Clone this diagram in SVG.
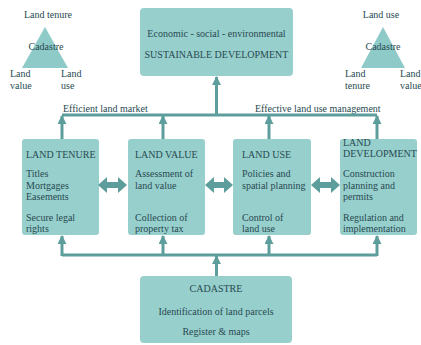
<svg xmlns="http://www.w3.org/2000/svg" width="421" height="345" viewBox="0 0 421 345">
<style>
.box{fill:#97cfcd;}
.tri{fill:#8ecac8;}
.t{font-family:"Liberation Serif","Times New Roman",serif;font-size:10px;fill:#284a50;}
.m{text-anchor:middle;}
.ln{stroke:#5d9e9c;stroke-width:3;fill:none;}
.dbl{fill:#5d9e9c;}
</style>
<defs>
<marker id="ah" viewBox="0 0 10 10" refX="9" refY="5" markerWidth="3" markerHeight="3" orient="auto" markerUnits="strokeWidth">
<path d="M0,0 L10,5 L0,10 Z" fill="#5d9e9c"/>
</marker>
</defs>
<rect width="421" height="345" fill="#ffffff"/>

<g id="triangle-left">
<polygon class="tri" points="45,27 22,68 68,68"/>
<text class="t m" x="48" y="18">Land tenure</text>
<text class="t m" x="46" y="50">Cadastre</text>
<text class="t" x="10" y="77">Land</text>
<text class="t" x="10" y="89">value</text>
<text class="t" x="61" y="77">Land</text>
<text class="t" x="61" y="89">use</text>
</g>

<g id="triangle-right">
<polygon class="tri" points="383,27 361,68 405,68"/>
<text class="t m" x="381" y="18">Land use</text>
<text class="t m" x="383" y="50">Cadastre</text>
<text class="t" x="345" y="77">Land</text>
<text class="t" x="345" y="89">tenure</text>
<text class="t" x="400" y="77">Land</text>
<text class="t" x="400" y="89">value</text>
</g>

<g id="sustainable">
<rect class="box" x="140" y="8" width="153" height="68" rx="4"/>
<text class="t m" x="216.5" y="37">Economic - social - environmental</text>
<text class="t m" x="216.5" y="58">SUSTAINABLE DEVELOPMENT</text>
</g>

<g id="land-tenure">
<rect class="box" x="22" y="139" width="77" height="96" rx="3"/>
<text class="t" x="26" y="158">LAND TENURE</text>
<text class="t" x="26" y="177">Titles</text>
<text class="t" x="26" y="189">Mortgages</text>
<text class="t" x="26" y="200">Easements</text>
<text class="t" x="26" y="221">Secure legal</text>
<text class="t" x="26" y="232">rights</text>
</g>

<g id="land-value">
<rect class="box" x="128" y="139" width="77" height="96" rx="3"/>
<text class="t" x="135" y="158">LAND VALUE</text>
<text class="t" x="135" y="177">Assessment of</text>
<text class="t" x="135" y="189">land value</text>
<text class="t" x="135" y="221">Collection of</text>
<text class="t" x="135" y="232">property tax</text>
</g>

<g id="land-use">
<rect class="box" x="233" y="139" width="78" height="96" rx="3"/>
<text class="t" x="242" y="158">LAND USE</text>
<text class="t" x="242" y="177">Policies and</text>
<text class="t" x="242" y="189">spatial planning</text>
<text class="t" x="242" y="221">Control of</text>
<text class="t" x="242" y="232">land use</text>
</g>

<g id="land-development">
<rect class="box" x="340" y="139" width="77" height="96" rx="3"/>
<text class="t" x="343" y="146">LAND</text>
<text class="t" x="343" y="157">DEVELOPMENT</text>
<text class="t" x="343" y="177">Construction</text>
<text class="t" x="343" y="189">planning and</text>
<text class="t" x="343" y="200">permits</text>
<text class="t" x="343" y="221">Regulation and</text>
<text class="t" x="343" y="232">implementation</text>
</g>

<g id="cadastre">
<rect class="box" x="140" y="276" width="152" height="67" rx="4"/>
<text class="t m" x="216" y="292">CADASTRE</text>
<text class="t m" x="216" y="315">Identification of land parcels</text>
<text class="t m" x="216" y="335">Register &amp; maps</text>
</g>

<g id="connectors">
<text class="t" x="63" y="112">Efficient land market</text>
<text class="t" x="255" y="112">Effective land use management</text>
<polyline class="ln" points="62,115 377,115"/>
<line class="ln" x1="216.5" y1="115" x2="216.5" y2="77" marker-end="url(#ah)"/>
<line class="ln" x1="62" y1="139" x2="62" y2="116" marker-end="url(#ah)"/>
<line class="ln" x1="163" y1="139" x2="163" y2="116" marker-end="url(#ah)"/>
<line class="ln" x1="269" y1="139" x2="269" y2="116" marker-end="url(#ah)"/>
<line class="ln" x1="377" y1="139" x2="377" y2="116" marker-end="url(#ah)"/>
<polyline class="ln" points="62,255 377,255"/>
<line class="ln" x1="216.5" y1="276" x2="216.5" y2="256" marker-end="url(#ah)"/>
<line class="ln" x1="62" y1="256" x2="62" y2="236" marker-end="url(#ah)"/>
<line class="ln" x1="163" y1="256" x2="163" y2="236" marker-end="url(#ah)"/>
<line class="ln" x1="269" y1="256" x2="269" y2="236" marker-end="url(#ah)"/>
<line class="ln" x1="377" y1="256" x2="377" y2="236" marker-end="url(#ah)"/>
<path class="dbl" d="M98,185 L107,177 L107,182 L118,182 L118,177 L127,185 L118,193 L118,188 L107,188 L107,193 Z"/>
<path class="dbl" d="M205,185 L214,177 L214,182 L224,182 L224,177 L233,185 L224,193 L224,188 L214,188 L214,193 Z"/>
<path class="dbl" d="M311,185 L320,177 L320,182 L331,182 L331,177 L340,185 L331,193 L331,188 L320,188 L320,193 Z"/>
</g>
</svg>
